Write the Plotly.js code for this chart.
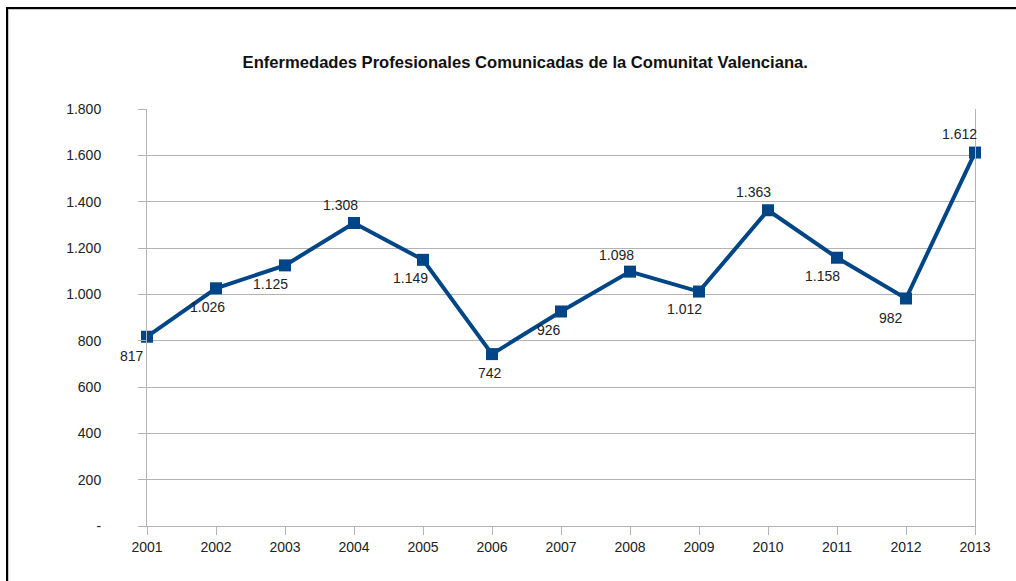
<!DOCTYPE html>
<html>
<head>
<meta charset="utf-8">
<script src="https://cdn.plot.ly/plotly-3.0.1.min.js"></script>
<style>
html,body{margin:0;padding:0;background:#fff;}
#wrap{position:relative;width:1016px;height:581px;overflow:hidden;}
#chart{position:absolute;left:0;top:0;width:1016px;height:581px;}
#frame{position:absolute;left:6px;top:7px;width:1020px;height:600px;border-left:2px solid #000;border-top:2px solid #000;pointer-events:none;}
#frame2{position:absolute;left:8px;top:9px;width:1020px;height:600px;border-left:1px solid #c8c8c8;border-top:1px solid #c8c8c8;pointer-events:none;}
</style>
</head>
<body>
<div id="wrap">
<div id="chart"></div>
<div id="frame"></div>
<div id="frame2"></div>
</div>
<script>
const years = [2001,2002,2003,2004,2005,2006,2007,2008,2009,2010,2011,2012,2013];
const values = [817,1026,1125,1308,1149,742,926,1098,1012,1363,1158,982,1612];
const yTickVals = [0,200,400,600,800,1000,1200,1400,1600,1800];
const yTickText = ["-","200","400","600","800","1.000","1.200","1.400","1.600","1.800"];
const titleText = "Enfermedades Profesionales Comunicadas de la Comunitat Valenciana.";

// label offsets (px), styling only
const labelDx = [-15,-9,-15,-14,-13,-2,-12,-14,-15,-15,-15,-15,-16];
const labelDy = [-19,-19,-19,18,-18,-19,-19,17,-17,18,-18,-19,19];

function fmt(v){
  return String(v).replace(/\B(?=(\d{3})+(?!\d))/g, ".");
}

const color = "#004586";
const font = "Liberation Sans, Arial, sans-serif";

const annotations = years.map((yr,i)=>({
  x: yr, y: values[i], xref:'x', yref:'y',
  text: fmt(values[i]), showarrow:false,
  xshift: labelDx[i], yshift: labelDy[i],
  font:{family:font,size:14,color:'#222'}
}));

const trace = {
  x: years, y: values, type:'scatter', mode:'lines+markers',
  line:{color:color,width:4},
  marker:{symbol:'square',size:12,color:color},
  cliponaxis:false,
  hoverinfo:'x+y'
};

const layout = {
  width:1016, height:581,
  margin:{l:147,r:41,t:109,b:55,pad:0},
  paper_bgcolor:'#fff', plot_bgcolor:'#fff',
  showlegend:false,
  title:{text:'<b>'+titleText+'</b>', x:0.517, xanchor:'center', y:0.893, yanchor:'middle',
    font:{family:font,size:16.6,color:'#111'}},
  xaxis:{
    type:'linear', range:[2001,2013], tickvals:years, ticktext:years.map(String),
    showgrid:false, zeroline:false,
    showline:true, linecolor:'#b3b3b3', linewidth:1,
    ticks:'outside', ticklen:8, tickcolor:'#b3b3b3', tickwidth:1,
    tickfont:{family:font,size:14,color:'#222'}
  },
  yaxis:{
    range:[0,1800], tickvals:yTickVals, ticktext:yTickText,
    showgrid:true, gridcolor:'#b3b3b3', gridwidth:1, zeroline:false,
    showline:true, linecolor:'#b3b3b3', linewidth:1, mirror:true,
    ticks:'outside', ticklen:8, tickcolor:'#b3b3b3', tickwidth:1,
    ticklabelstandoff:34,
    tickfont:{family:font,size:14,color:'#222'}
  },
  annotations: annotations
};

Plotly.newPlot('chart',[trace],layout,{displayModeBar:false,staticPlot:true});
</script>
</body>
</html>
